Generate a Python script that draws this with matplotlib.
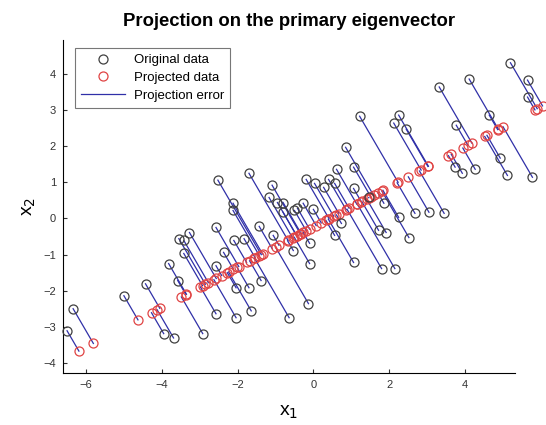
import numpy as np
import matplotlib.pyplot as plt

plt.rcParams['font.family'] = ['Liberation Sans', 'DejaVu Sans']

# original 2D data
x1 = np.array([
    -6.34, -6.50, -5.00, -4.43, -3.82, -3.95, -3.69, -3.55, -3.27, -3.42,
    -3.58, -2.92, -2.52, -1.70, -1.09, -2.12, -2.12, -1.17, -0.95, -0.80,
    -0.42, -2.57, -3.42, -1.43, -2.10, -1.83, -2.37, -1.06, -0.53, -2.57,
    -2.04, -1.70, -1.38, -2.57, -2.04, -1.64, -0.64, -0.13, 1.22, 2.25,
    2.12, 2.45, 0.85, 1.06, 0.61, -0.19, 0.03, 0.40, 0.56, 0.27,
    1.06, -0.27, -0.50, 0.00, 1.86, 1.46, 0.74, 1.72, 1.92, 2.68,
    3.05, 3.45, 2.25, 2.52, 0.56, -0.10, -0.10, 1.06, 1.80, 2.15,
    3.32, 4.11, 5.20, 5.65, 5.65, 4.64, 3.77, 4.93, 5.12, 5.78,
    4.27, 3.93, 3.74, -0.80,
])
x2 = np.array([
    -2.50, -3.11, -2.14, -1.81, -1.25, -3.19, -3.31, -0.56, -0.39, -0.97,
    -1.72, -3.19, 1.06, 1.25, 0.92, 0.42, 0.22, 0.58, 0.44, 0.17,
    0.28, -0.25, -0.61, -0.22, -0.61, -0.56, -0.94, -0.47, -0.89, -1.31,
    -1.92, -1.92, -1.72, -2.64, -2.75, -2.56, -2.75, -2.36, 2.83, 2.86,
    2.64, 2.47, 1.97, 1.42, 1.36, 1.08, 0.97, 1.08, 0.97, 0.86,
    0.83, 0.42, 0.22, 0.25, 0.42, 0.58, -0.14, -0.33, -0.39, 0.14,
    0.17, 0.14, 0.03, -0.53, -0.47, -0.69, -1.25, -1.22, -1.39, -1.39,
    3.64, 3.86, 4.31, 3.83, 3.36, 2.86, 2.58, 1.67, 1.19, 1.14,
    1.36, 1.25, 1.42, 0.44,
])

# primary eigenvector line (point on it + slope)
line_point = np.array([0.0, -0.24])
line_slope = 0.555

X = np.column_stack([x1, x2])
u = np.array([1.0, line_slope])
u = u / np.linalg.norm(u)
z = (X - line_point) @ u
Xp = np.outer(z, u) + line_point

fig = plt.figure(figsize=(5.46, 4.25), dpi=100)
ax = fig.add_axes([63 / 546, 52 / 425, 452 / 546, 333 / 425])

for i in range(len(X)):
    ax.plot([X[i, 0], Xp[i, 0]], [X[i, 1], Xp[i, 1]], color='#3030a8', lw=0.9,
            label='Projection error' if i == 0 else None, zorder=1, clip_on=False)
ax.plot(X[:, 0], X[:, 1], 'o', mfc='none', mec='#404040', ms=6.5, mew=0.9,
        label='Original data', zorder=3, clip_on=False)
ax.plot(Xp[:, 0], Xp[:, 1], 'o', mfc='none', mec='#e04444', ms=6.5, mew=0.9,
        label='Projected data', zorder=2, clip_on=False)

h, l = ax.get_legend_handles_labels()
order = [1, 2, 0]
leg = ax.legend([h[k] for k in order], [l[k] for k in order], loc='upper left',
                bbox_to_anchor=(0.027, 0.976), borderaxespad=0,
                fontsize=9.5, frameon=True, fancybox=False, edgecolor='#555555',
                borderpad=0.45, handlelength=3.3, labelspacing=0.42,
                handletextpad=0.7)
leg.get_frame().set_linewidth(0.8)

ax.set_xlim(-6.607, 5.32)
ax.set_ylim(-4.28, 4.94)
ax.set_xticks([-6, -4, -2, 0, 2, 4])
ax.set_yticks([-4, -3, -2, -1, 0, 1, 2, 3, 4])
ax.tick_params(direction='in', labelsize=8, length=3, colors='#333333', pad=5)
for s in ['top', 'right']:
    ax.spines[s].set_visible(False)

ax.set_title('Projection on the primary eigenvector', fontsize=13.3,
             fontweight='bold', pad=10)
ax.set_xlabel('x$_1$', fontsize=14, labelpad=10)
ax.set_ylabel('x$_2$', fontsize=14)

fig.savefig('out.png', dpi=100)
